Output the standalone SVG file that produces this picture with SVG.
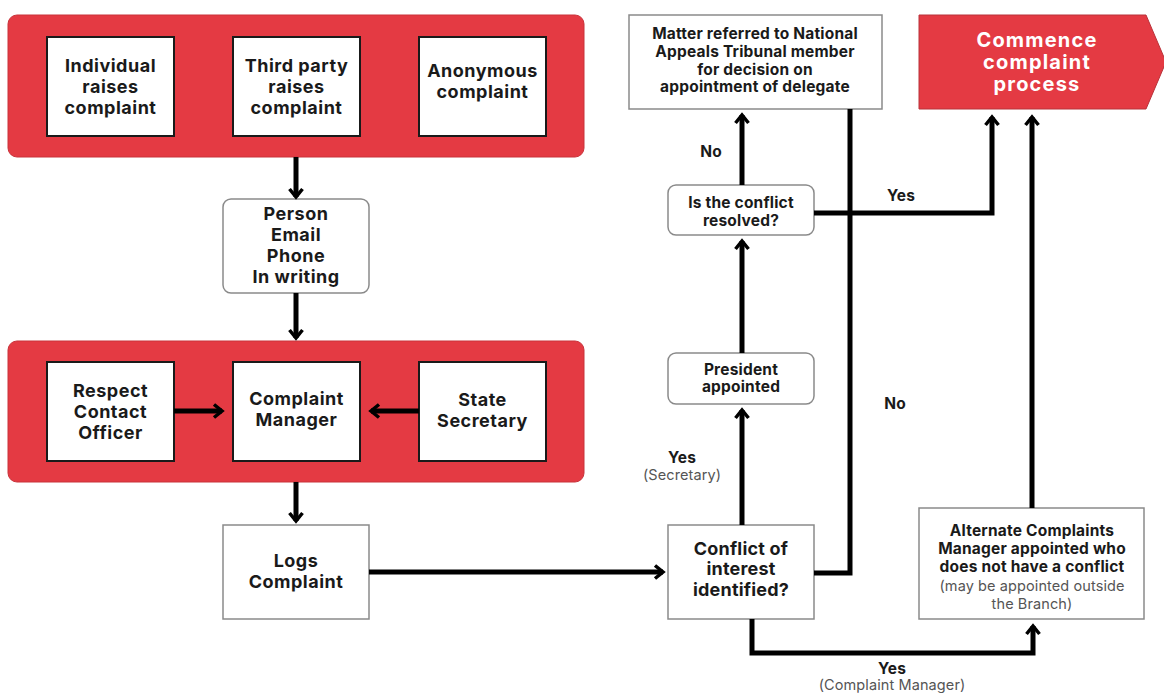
<svg xmlns="http://www.w3.org/2000/svg" width="1164" height="693" viewBox="0 0 1164 693">
<defs>
<style>
.panel{fill:#E43A43;stroke:#c9333b;stroke-width:1}
.ib{fill:#fff;stroke:#1a1a1a;stroke-width:2}
.gb{fill:#fff;stroke:#8a8a8a;stroke-width:1.5}
text{font-family:Inter,"Liberation Sans",Arial,sans-serif;font-weight:700;fill:#1a1a1a;text-anchor:middle;dominant-baseline:central}
.t17{font-size:18px;letter-spacing:0.5px}
.t14{font-size:15.5px;letter-spacing:0.2px}
.t18{font-size:18px;letter-spacing:0.2px}
.w{fill:#fff;font-size:20px;letter-spacing:1.2px}
.r{font-weight:400;fill:#555;font-size:14.5px;letter-spacing:0.1px}
.c{fill:none;stroke:#000;stroke-width:5}
</style>
<marker id="a" viewBox="0 0 14 16" refX="11" refY="8" markerWidth="14" markerHeight="16" markerUnits="userSpaceOnUse" orient="auto">
<path d="M3,1.5 L11,8 L3,14.5" fill="none" stroke="#000" stroke-width="3.5"/>
</marker>
</defs>

<g id="panel-top">
<rect class="panel" x="8" y="15" width="576" height="142" rx="9"/>
</g>
<g id="n-individual">
<rect class="ib" x="47" y="37" width="127" height="99"/>
<text class="t17" x="110.5" y="65">Individual</text>
<text class="t17" x="110.5" y="86">raises</text>
<text class="t17" x="110.5" y="107">complaint</text>
</g>
<g id="n-thirdparty">
<rect class="ib" x="233" y="37" width="127" height="99"/>
<text class="t17" x="296.5" y="65">Third party</text>
<text class="t17" x="296.5" y="86">raises</text>
<text class="t17" x="296.5" y="107">complaint</text>
</g>
<g id="n-anonymous">
<rect class="ib" x="419" y="37" width="127" height="99"/>
<text class="t17" x="482.5" y="70">Anonymous</text>
<text class="t17" x="482.5" y="91">complaint</text>
</g>

<g id="n-person">
<rect class="gb" x="223" y="199" width="146" height="94" rx="8"/>
<text class="t17" x="296" y="213">Person</text>
<text class="t17" x="296" y="234">Email</text>
<text class="t17" x="296" y="255">Phone</text>
<text class="t17" x="296" y="276">In writing</text>
</g>

<g id="panel-mid">
<rect class="panel" x="8" y="341" width="576" height="141" rx="9"/>
</g>
<g id="n-respect">
<rect class="ib" x="47" y="362" width="127" height="99"/>
<text class="t17" x="110.5" y="390">Respect</text>
<text class="t17" x="110.5" y="411">Contact</text>
<text class="t17" x="110.5" y="432">Officer</text>
</g>
<g id="n-cm">
<rect class="ib" x="233" y="362" width="127" height="99"/>
<text class="t17" x="296.5" y="398">Complaint</text>
<text class="t17" x="296.5" y="419">Manager</text>
</g>
<g id="n-state">
<rect class="ib" x="419" y="362" width="127" height="99"/>
<text class="t17" x="482.5" y="399">State</text>
<text class="t17" x="482.5" y="420">Secretary</text>
</g>

<g id="n-logs">
<rect class="gb" x="223" y="525" width="146" height="94"/>
<text class="t17" x="296" y="560">Logs</text>
<text class="t17" x="296" y="581">Complaint</text>
</g>

<g id="n-conflict">
<rect class="gb" x="668" y="525" width="146" height="94"/>
<text class="t18" x="741" y="548">Conflict of</text>
<text class="t18" x="741" y="568">interest</text>
<text class="t18" x="741" y="589">identified?</text>
</g>

<g id="n-president">
<rect class="gb" x="668" y="353" width="146" height="51" rx="8"/>
<text class="t14" x="741" y="369">President</text>
<text class="t14" x="741" y="386">appointed</text>
</g>

<g id="n-resolved">
<rect class="gb" x="668" y="185" width="146" height="50" rx="8"/>
<text class="t14" x="741" y="202">Is the conflict</text>
<text class="t14" x="741" y="220">resolved?</text>
</g>

<g id="n-matter">
<rect class="gb" x="629" y="15" width="253" height="94"/>
<text class="t14" x="755" y="33">Matter referred to National</text>
<text class="t14" x="755" y="51">Appeals Tribunal member</text>
<text class="t14" x="755" y="69">for decision on</text>
<text class="t14" x="755" y="86">appointment of delegate</text>
</g>

<g id="n-commence">
<path d="M919,15 L1146,15 L1166,62 L1146,109 L919,109 Z" fill="#E43A43" stroke="#b8323a" stroke-width="1"/>
<text class="w" x="1037" y="40">Commence</text>
<text class="w" x="1037" y="62">complaint</text>
<text class="w" x="1037" y="84">process</text>
</g>

<g id="n-alternate">
<rect class="gb" x="919" y="508" width="225" height="111"/>
<text class="t14" x="1032" y="530">Alternate Complaints</text>
<text class="t14" x="1032" y="548">Manager appointed who</text>
<text class="t14" x="1032" y="566">does not have a conflict</text>
<text class="r" x="1032" y="585">(may be appointed outside</text>
<text class="r" x="1032" y="603">the Branch)</text>
</g>

<g id="connectors">
<path class="c" d="M296,157 L296,197" marker-end="url(#a)"/>
<path class="c" d="M296,293 L296,338" marker-end="url(#a)"/>
<path class="c" d="M174,411 L222,411" marker-end="url(#a)"/>
<path class="c" d="M419,411 L371,411" marker-end="url(#a)"/>
<path class="c" d="M296,482 L296,521" marker-end="url(#a)"/>
<path class="c" d="M369,572 L663,572" marker-end="url(#a)"/>
<path class="c" d="M742,525 L742,410" marker-end="url(#a)"/>
<path class="c" d="M742,353 L742,241" marker-end="url(#a)"/>
<path class="c" d="M742,185 L742,115" marker-end="url(#a)"/>
<path class="c" d="M814,213 L992,213 L992,117" marker-end="url(#a)"/>
<path class="c" d="M814,573 L850,573 L850,109"/>
<path class="c" d="M752,619 L752,653 L1033,653 L1033,626" marker-end="url(#a)"/>
<path class="c" d="M1032,508 L1032,117" marker-end="url(#a)"/>
</g>

<g id="labels">
<text class="t14" x="711" y="151">No</text>
<text class="t14" x="901" y="195">Yes</text>
<text class="t14" x="895" y="403">No</text>
<text class="t14" x="682" y="457">Yes</text>
<text class="r" x="682" y="474">(Secretary)</text>
<text class="t14" x="892" y="668">Yes</text>
<text class="r" x="892" y="684">(Complaint Manager)</text>
</g>
</svg>
